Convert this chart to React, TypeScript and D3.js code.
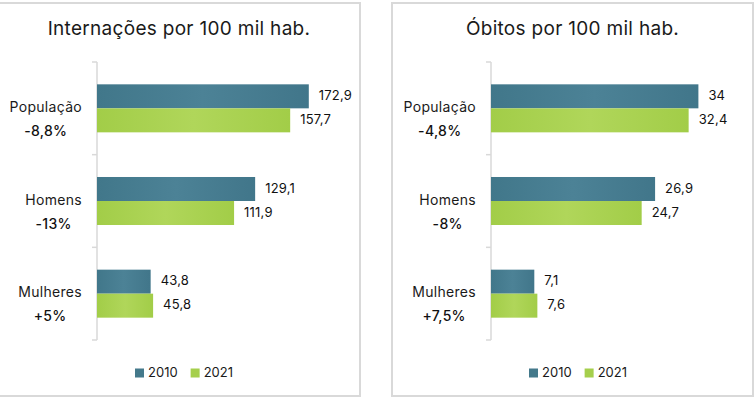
import React, { useRef, useEffect } from 'react';
import * as d3 from 'd3';

// data
const categories = ['População', 'Homens', 'Mulheres'];
const years = ['2010', '2021'];

const internacoes2010 = [172.9, 129.1, 43.8];
const internacoes2021 = [157.7, 111.9, 45.8];
const internacoesVar = ['-8,8%', '-13%', '+5%'];

const obitos2010 = [34, 26.9, 7.1];
const obitos2021 = [32.4, 24.7, 7.6];
const obitosVar = ['-4,8%', '-8%', '+7,5%'];

const COLORS = { '2010': '#44798b', '2021': '#a5cf4c' };
const FONT = 'Inter, "Open Sans", sans-serif';

function drawPanel(svg, opts) {
  const { x0, x1, title, v2010, v2021, vars, axisX, domainMax, rangeEnd, labelRight, legendX, fmt } = opts;
  const g = svg.append('g');

  // frame
  g.append('rect')
    .attr('x', x0).attr('y', 3)
    .attr('width', x1 - x0).attr('height', 393)
    .attr('fill', '#fff')
    .attr('stroke', '#d9d9d9')
    .attr('stroke-width', 2);

  g.append('text')
    .attr('x', (x0 + x1) / 2)
    .attr('y', 30)
    .attr('text-anchor', 'middle')
    .attr('dominant-baseline', 'middle')
    .attr('font-family', FONT)
    .attr('font-size', 19)
    .attr('letter-spacing', 0.3)
    .attr('fill', '#1a1a1a')
    .text(title);

  const y = d3.scaleBand().domain(categories).range([62, 340]).padding(0);
  const ySub = d3.scaleBand().domain(years).range([0, y.bandwidth()]).paddingInner(0).paddingOuter(0.93);
  const x = d3.scaleLinear().domain([0, domainMax]).range([axisX, rangeEnd]);

  const rows = categories.map((c, i) => ({ cat: c, vals: [ { year: '2010', v: v2010[i] }, { year: '2021', v: v2021[i] } ], change: vars[i] }));

  // axis line + ticks
  g.append('line')
    .attr('x1', axisX).attr('x2', axisX)
    .attr('y1', y.range()[0]).attr('y2', y.range()[1])
    .attr('stroke', '#d9d9d9').attr('stroke-width', 1.5);
  const tickYs = categories.map(c => y(c)).concat([y.range()[1]]);
  g.selectAll('.tick').data(tickYs).join('line')
    .attr('x1', axisX - 5).attr('x2', axisX)
    .attr('y1', d => d).attr('y2', d => d)
    .attr('stroke', '#d9d9d9').attr('stroke-width', 1.5);

  const groups = g.selectAll('.row').data(rows).join('g')
    .attr('transform', d => `translate(0,${y(d.cat)})`);

  groups.selectAll('rect').data(d => d.vals).join('rect')
    .attr('x', axisX)
    .attr('y', d => ySub(d.year))
    .attr('width', d => x(d.v) - axisX)
    .attr('height', ySub.bandwidth())
    .attr('fill', d => `url(#grad${d.year})`);

  groups.selectAll('.val').data(d => d.vals).join('text')
    .attr('class', 'val')
    .attr('x', d => x(d.v) + 10)
    .attr('y', d => ySub(d.year) + ySub.bandwidth() / 2)
    .attr('dominant-baseline', 'middle')
    .attr('font-family', FONT)
    .attr('font-size', 13)
    .attr('letter-spacing', 0.2)
    .attr('fill', '#111')
    .text(d => fmt(d.v));

  // category labels
  groups.each(function (d) {
    const gg = d3.select(this);
    const cy = y.bandwidth() / 2;
    const name = gg.append('text')
      .attr('x', labelRight)
      .attr('y', cy)
      .attr('text-anchor', 'end')
      .attr('dominant-baseline', 'middle')
      .attr('font-family', FONT)
      .attr('font-size', 14)
      .attr('letter-spacing', 0.3)
      .attr('fill', '#1a1a1a')
      .text(d.cat);
    const w = name.node().getComputedTextLength();
    gg.append('text')
      .attr('x', labelRight - w / 2)
      .attr('y', cy + 24)
      .attr('text-anchor', 'middle')
      .attr('dominant-baseline', 'middle')
      .attr('font-family', FONT)
      .attr('font-size', 14)
      .attr('font-weight', 500)
      .attr('letter-spacing', 0.3)
      .attr('fill', '#111')
      .text(d.change);
  });

  // legend
  const leg = g.append('g').attr('transform', `translate(${legendX},373)`);
  let lx = 0;
  years.forEach(yr => {
    leg.append('rect').attr('x', lx).attr('y', -4.5).attr('width', 9).attr('height', 9).attr('fill', COLORS[yr]);
    const t = leg.append('text')
      .attr('x', lx + 13).attr('y', 0)
      .attr('dominant-baseline', 'middle')
      .attr('font-family', FONT)
      .attr('font-size', 13)
      .attr('fill', '#1a1a1a')
      .text(yr);
    lx += 13 + t.node().getComputedTextLength() + 13;
  });
}

export default function App() {
  const svgRef = useRef(null);

  useEffect(() => {
    const svg = d3.select(svgRef.current);
    svg.selectAll('*').remove();

    const defs = svg.append('defs');
    const gradStops = {
      '2010': ['#41778a', '#4c8296', '#41768a'],
      '2021': ['#a2cd48', '#b0d65a', '#a2cd48'],
    };
    years.forEach(yr => {
      const lg = defs.append('linearGradient').attr('id', `grad${yr}`).attr('x1', '0%').attr('x2', '100%').attr('y1', '0%').attr('y2', '0%');
      gradStops[yr].forEach((c, i) => lg.append('stop').attr('offset', `${i * 50}%`).attr('stop-color', c));
    });

    const fmt = v => d3.format('.1f')(v).replace('.', ',').replace(/,0$/, '');

    drawPanel(svg, {
      x0: -2, x1: 360, title: 'Internações por 100 mil hab.',
      v2010: internacoes2010, v2021: internacoes2021, vars: internacoesVar,
      axisX: 97, domainMax: 200, rangeEnd: 342, labelRight: 82, legendX: 135, fmt,
    });
    drawPanel(svg, {
      x0: 392, x1: 753, title: 'Óbitos por 100 mil hab.',
      v2010: obitos2010, v2021: obitos2021, vars: obitosVar,
      axisX: 491, domainMax: 40, rangeEnd: 735, labelRight: 476, legendX: 529, fmt,
    });
  }, []);

  return (
    <div style={{ position: 'fixed', left: 0, top: 0 }}>
      <svg ref={svgRef} width={756} height={399} style={{ display: 'block', background: '#fff' }} />
    </div>
  );
}
